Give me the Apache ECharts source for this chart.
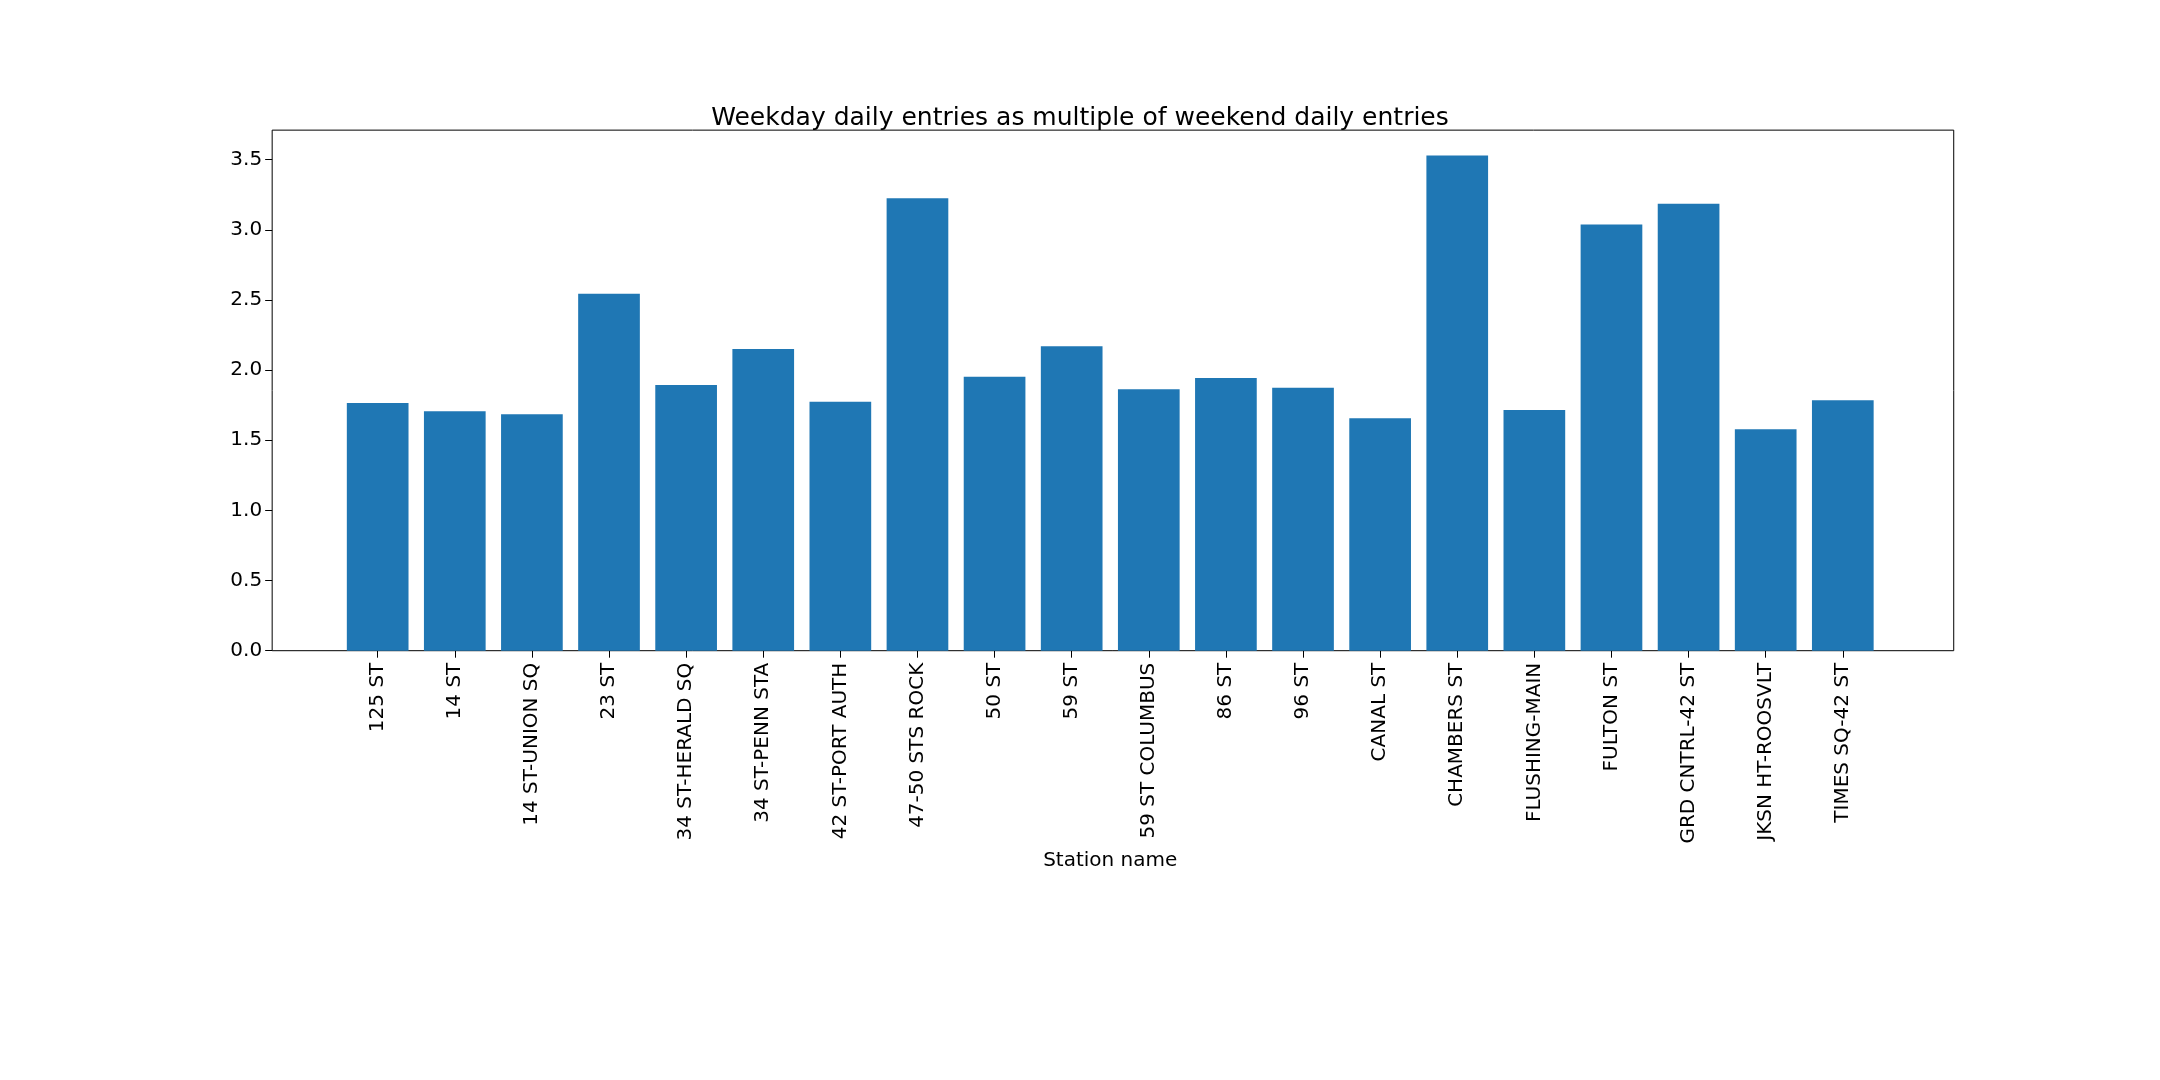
<!DOCTYPE html>
<html>
<head>
<meta charset="utf-8">
<script src="https://cdn.jsdelivr.net/npm/echarts@6/dist/echarts.min.js"></script>
<style>html,body{margin:0;padding:0;background:#fff}#main{width:2160px;height:1080px}</style>
</head>
<body>
<div id="main"></div>
<script>
var stations = ['125 ST', '14 ST', '14 ST-UNION SQ', '23 ST', '34 ST-HERALD SQ', '34 ST-PENN STA',
    '42 ST-PORT AUTH', '47-50 STS ROCK', '50 ST', '59 ST', '59 ST COLUMBUS', '86 ST', '96 ST',
    'CANAL ST', 'CHAMBERS ST', 'FLUSHING-MAIN', 'FULTON ST', 'GRD CNTRL-42 ST', 'JKSN HT-ROOSVLT',
    'TIMES SQ-42 ST'];
var ratios = [1.765, 1.706, 1.686, 2.544, 1.893, 2.15, 1.775, 3.225, 1.953, 2.17, 1.864, 1.943,
    1.874, 1.657, 3.53, 1.716, 3.037, 3.185, 1.578, 1.785];

var chartDom = document.getElementById('main');
var myChart = echarts.init(chartDom);
var font = 'DejaVu Sans';
var yMax = 3.71;

var option = {
    textStyle: { fontFamily: font },
    title: {
        text: 'Weekday daily entries as multiple of weekend daily entries',
        left: 'center',
        top: 101,
        textStyle: { fontFamily: font, fontSize: 25, fontWeight: 'normal', color: '#000' }
    },
    grid: [{
        // frame
        left: '12.6%', right: '9.55%', top: '12.05%', bottom: '39.75%',
        show: true, borderColor: '#000', borderWidth: 1
    }, {
        // bars
        left: '15.7%', right: '12.9%', top: '12.05%', bottom: '39.75%'
    }],
    xAxis: [{
        gridIndex: 0, type: 'value', show: false, min: 0, max: 1
    }, {
        gridIndex: 1,
        type: 'category',
        data: stations,
        name: 'Station name',
        nameLocation: 'middle',
        nameGap: 200,
        nameTextStyle: { fontSize: 20, color: '#000' },
        axisLine: { show: false },
        axisTick: { show: true, alignWithLabel: true, length: 7, lineStyle: { color: '#000' } },
        axisLabel: { rotate: 90, fontSize: 20, color: '#000', margin: 12, interval: 0 }
    }],
    yAxis: [{
        gridIndex: 0,
        type: 'value',
        min: 0, max: yMax, interval: 0.5,
        axisLine: { show: false },
        axisTick: { show: true, length: 7, lineStyle: { color: '#000' } },
        splitLine: { show: false },
        axisLabel: {
            fontSize: 20, color: '#000', margin: 10, showMaxLabel: false,
            formatter: function (v) { return v.toFixed(1); }
        }
    }, {
        gridIndex: 1, type: 'value', min: 0, max: yMax, show: false
    }],
    series: [{
        type: 'bar',
        xAxisIndex: 1,
        yAxisIndex: 1,
        data: ratios,
        barWidth: '80%',
        itemStyle: { color: '#1f77b4' }
    }]
};
myChart.setOption(option);
</script>
</body>
</html>
